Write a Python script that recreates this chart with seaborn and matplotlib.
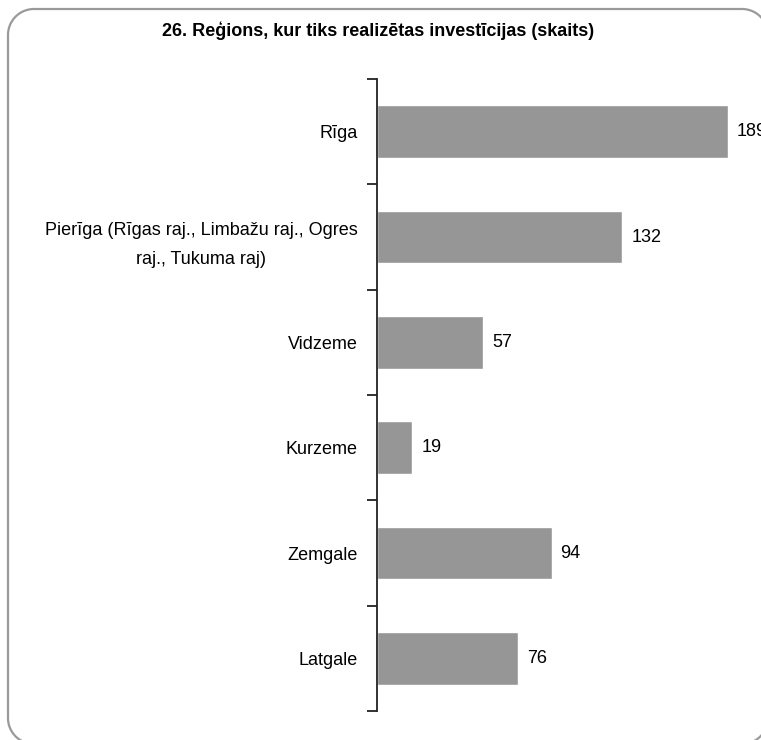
import matplotlib
matplotlib.use("Agg")
import matplotlib.pyplot as plt
import numpy as np
import seaborn as sns

# data
regions = [
    "Rīga",
    "Pierīga (Rīgas raj., Limbažu raj., Ogres\nraj., Tukuma raj)",
    "Vidzeme",
    "Kurzeme",
    "Zemgale",
    "Latgale",
]
counts = [189, 132, 57, 19, 94, 76]
title = "26. Reģions, kur tiks realizētas investīcijas (skaits)"


def rounded_frame(x0, y0, x1, y1, r, n=30):
    # outline of a rounded rectangle, pixel coords with y going down
    xs, ys = [], []
    corners = [(x1 - r, y0 + r, -90, 0), (x1 - r, y1 - r, 0, 90),
               (x0 + r, y1 - r, 90, 180), (x0 + r, y0 + r, 180, 270)]
    for cx, cy, a0, a1 in corners:
        t = np.radians(np.linspace(a0, a1, n))
        xs.extend(cx + r * np.cos(t))
        ys.extend(cy + r * np.sin(t))
    xs.append(xs[0])
    ys.append(ys[0])
    return xs, ys


sns.set_style("white")
plt.rcParams["font.family"] = ["Liberation Sans", "DejaVu Sans"]
plt.rcParams["text.color"] = "black"
plt.rcParams["ytick.labelcolor"] = "black"

fig = plt.figure(figsize=(7.61, 7.40), dpi=100)

# background axes in pixel units for the frame
bg = fig.add_axes([0, 0, 1, 1], zorder=-1)
bg.set_xlim(0, 761)
bg.set_ylim(740, 0)
bg.axis("off")
fx, fy = rounded_frame(8, 9, 768, 744, 26)
bg.plot(fx, fy, color="#9a9a9a", linewidth=1.6)

ax = fig.add_axes([0.4954, 0.0392, 0.5046, 0.854])
ax.patch.set_alpha(0)

sns.barplot(x=counts, y=regions, color="#969696", saturation=1,
            width=0.5, orient="h", ax=ax)

ax.set_xlim(0, 206.8)
ax.set_ylim(5.5, -0.5)
ax.set_xlabel("")
ax.set_ylabel("")
ax.set_xticks([])

# ticks between categories, labels centred on the bars
ax.set_yticks([i - 0.5 for i in range(len(regions) + 1)], minor=True)
ax.tick_params(axis="y", which="minor", left=True, length=7, width=1.3,
               direction="out", color="#222222")
ax.tick_params(axis="y", which="major", left=False, length=0, pad=14,
               labelsize=13)
for lbl in ax.get_yticklabels():
    lbl.set_multialignment("center")
    lbl.set_linespacing(1.9)

sns.despine(ax=ax, left=False, bottom=True)
ax.spines["left"].set_linewidth(1.3)
ax.spines["left"].set_color("#222222")

ax.bar_label(ax.containers[0], padding=6.5, fontsize=13, color="black")

fig.text(0.497, 0.959, title, ha="center", va="center",
         fontsize=13, fontweight="bold")

fig.savefig("out.png", dpi=100)
